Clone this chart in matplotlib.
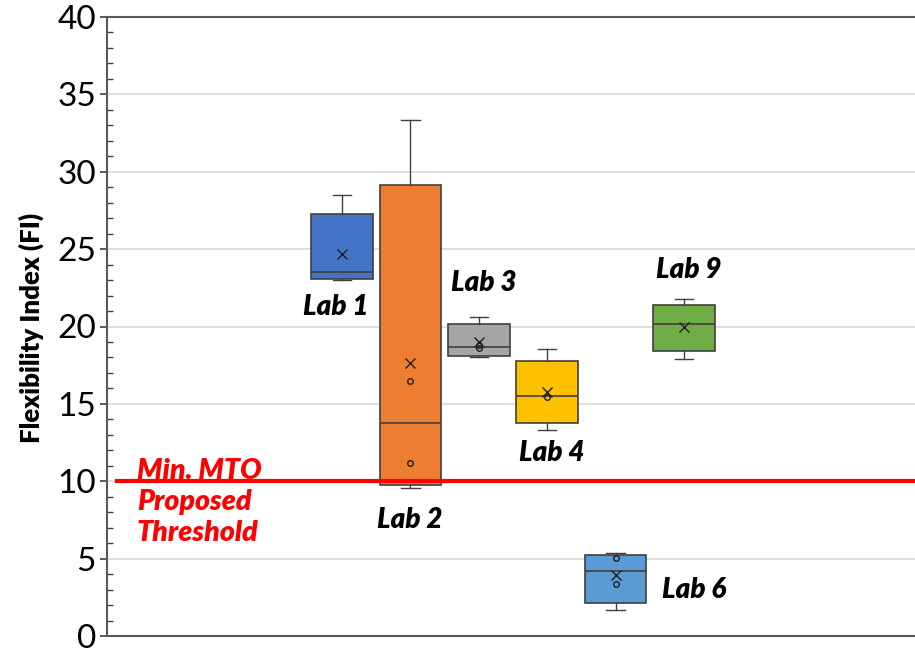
import matplotlib.pyplot as plt
from matplotlib.ticker import MultipleLocator

# box plot summaries
labs = ["Lab 1", "Lab 2", "Lab 3", "Lab 4", "Lab 6", "Lab 9"]
whislo = [22.99, 9.58, 18.01, 13.31, 1.68, 17.90]
q1 = [23.07, 9.75, 18.09, 13.78, 2.11, 18.42]
med = [23.54, 13.78, 18.69, 15.53, 4.18, 20.18]
q3 = [27.29, 29.14, 20.16, 17.79, 5.21, 21.39]
whishi = [28.50, 33.36, 20.59, 18.53, 5.34, 21.76]
means = [24.67, 17.62, 19.02, 15.79, 3.94, 19.99]
inner_pts = [[], [16.48, 11.16], [18.80, 18.58], [15.44], [5.06, 3.36], []]
colors = ["#4472C4", "#ED7D31", "#A5A5A5", "#FFC000", "#5B9BD5", "#70AD47"]

# label anchors (x offset from box position, y value)
label_dx = [-0.09, -0.01, 0.07, 0.06, 1.15, 0.07]
label_y = [21.26, 7.5, 22.8, 11.8, 2.97, 23.65]

threshold = 10

plt.rcParams["font.family"] = ["Lato", "DejaVu Sans"]

fig = plt.figure(figsize=(9.15, 6.52), dpi=100)
ax = fig.add_axes([107 / 915, 16 / 652, 1 - 107 / 915, 619 / 652])

positions = list(range(1, len(labs) + 1))
stats = []
for i in range(len(labs)):
    stats.append({"whislo": whislo[i], "q1": q1[i], "med": med[i], "q3": q3[i],
                  "whishi": whishi[i], "mean": means[i], "fliers": []})

bp = ax.bxp(stats, positions=positions, widths=0.9, capwidths=0.27,
            patch_artist=True, showmeans=True, showfliers=False,
            boxprops=dict(edgecolor="#404040", linewidth=1.2),
            medianprops=dict(color="#404040", linewidth=1.2),
            whiskerprops=dict(color="#404040", linewidth=1.0),
            capprops=dict(color="#404040", linewidth=1.0),
            meanprops=dict(marker="x", markeredgecolor="#202020", markersize=7,
                           markeredgewidth=1.0))
for patch, c in zip(bp["boxes"], colors):
    patch.set_facecolor(c)
    patch.set_zorder(2)

for p, pts in zip(positions, inner_pts):
    if pts:
        ax.plot([p] * len(pts), pts, linestyle="none", marker="o", markersize=4,
                markerfacecolor="none", markeredgecolor="#202020",
                markeredgewidth=1.0, zorder=4)

ax.axhline(threshold, xmin=(117 - 107) / 808, color="#FF0000", linewidth=3, zorder=5)
ax.text(-2.0, 8.66, "Min. MTO\nProposed\nThreshold", color="#FF0000",
        fontsize=20.5, fontweight="heavy", fontstyle="italic", ha="left", va="center",
        linespacing=1.22, zorder=6)

for i, lab in enumerate(labs):
    ax.text(positions[i] + label_dx[i], label_y[i], lab, fontsize=20,
            fontweight="heavy", fontstyle="italic", ha="center", va="center")

ax.set_xlim(1 - 235 / 68.4, 1 + 573 / 68.4)
ax.set_ylim(0, 40)
ax.yaxis.set_major_locator(MultipleLocator(5))
ax.yaxis.set_minor_locator(MultipleLocator(1))
ax.set_xticks([])
ax.tick_params(axis="y", which="major", direction="out", length=5, width=1.2,
               color="#404040", labelsize=24, pad=3)
ax.tick_params(axis="y", which="minor", direction="in", length=4, width=1.0,
               color="#404040")
ax.grid(axis="y", which="major", color="#D9D9D9", linewidth=1.2, zorder=0)
ax.set_axisbelow(True)
ax.set_ylabel("Flexibility Index (FI)", fontsize=18.5, fontweight="heavy")
ax.yaxis.set_label_coords(-0.078, 0.497)

for side in ["left", "top", "bottom"]:
    ax.spines[side].set_color("#595959")
    ax.spines[side].set_linewidth(1.5)
ax.spines["right"].set_visible(False)

fig.savefig("out.png", dpi=100)
